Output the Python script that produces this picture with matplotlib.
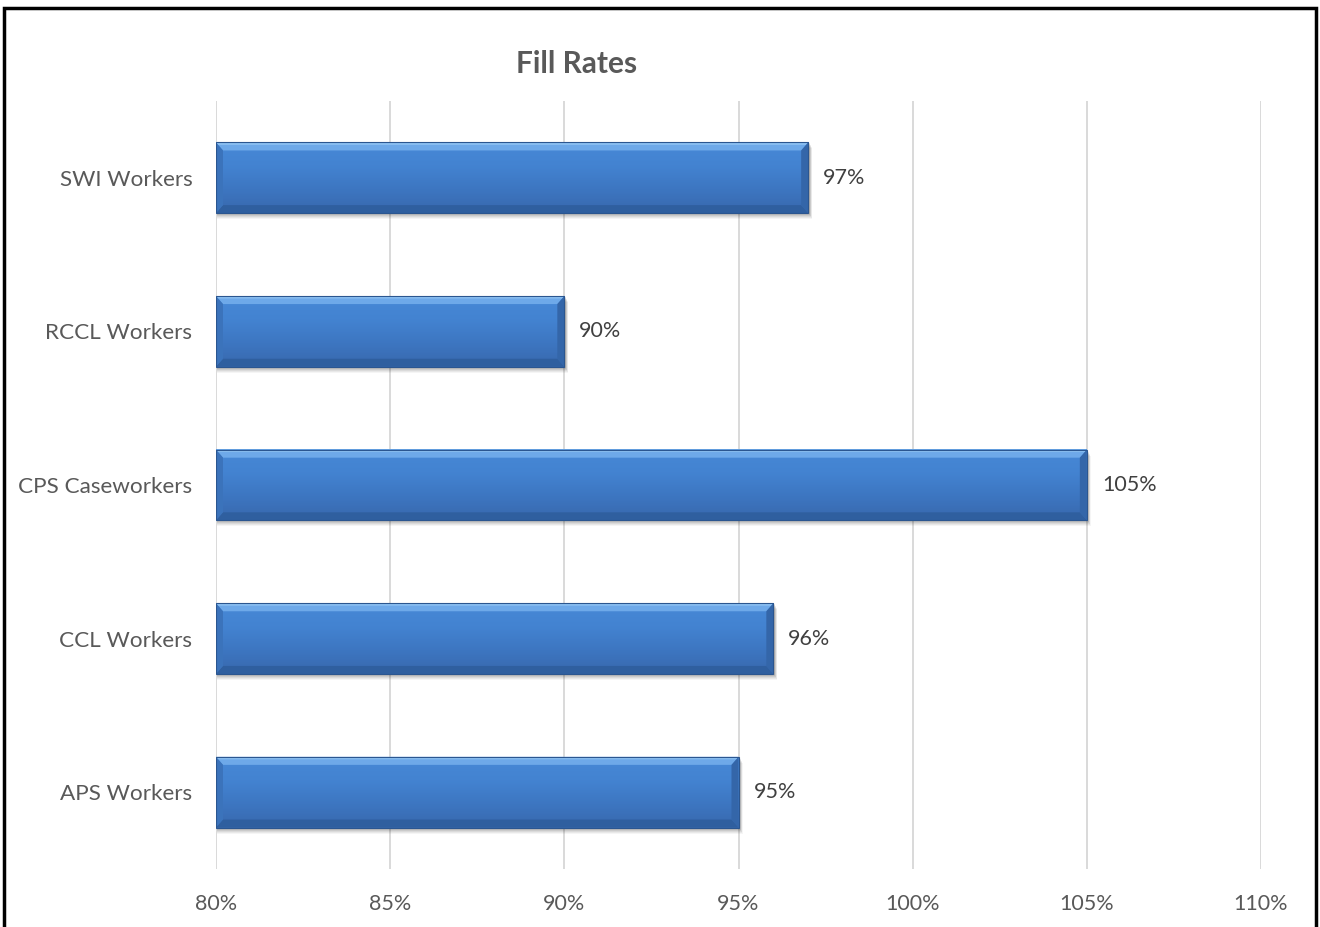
import matplotlib
matplotlib.use("Agg")
import matplotlib.pyplot as plt
import numpy as np
from matplotlib.patches import Polygon, Rectangle
from matplotlib.colors import LinearSegmentedColormap

# Fill rate by worker type (percent)
categories = ["APS Workers", "CCL Workers", "CPS Caseworkers", "RCCL Workers", "SWI Workers"]
fill_rates = [95, 96, 105, 90, 97]
x_ticks = [80, 85, 90, 95, 100, 105, 110]
tick_labels = ["80%", "85%", "90%", "95%", "100%", "105%", "110%"]
axis_min = 80

plt.rcParams['font.family'] = ['Lato', 'DejaVu Sans']

W, H = 1320, 927
fig = plt.figure(figsize=(W / 100, H / 100), dpi=100)
ax_left, ax_right, ax_top, ax_bottom = 216, 1261, 101, 869
ax = fig.add_axes([ax_left / W, 1 - ax_bottom / H,
                   (ax_right - ax_left) / W, (ax_bottom - ax_top) / H])
ax.set_xlim(x_ticks[0], x_ticks[-1])
ax.set_ylim(-0.5, len(categories) - 0.5)

# data units per pixel
px_x = (x_ticks[-1] - x_ticks[0]) / (ax_right - ax_left)
px_y = len(categories) / (ax_bottom - ax_top)

ypos = np.arange(len(categories))
bars = ax.barh(ypos, [v - axis_min for v in fill_rates], left=axis_min,
               height=0.46, color="#4080cf", zorder=3)

face_cmap = LinearSegmentedColormap.from_list(
    "face", ["#3868ad", "#3d76c1", "#4383d1", "#4788d6"])
grad = np.linspace(0, 1, 256).reshape(-1, 1)

for patch, val in zip(bars, fill_rates):
    x0, y0 = patch.get_x(), patch.get_y()
    x1, y1 = x0 + patch.get_width(), y0 + patch.get_height()
    patch.set_visible(False)

    # soft drop shadow
    for k, a in zip(range(6, 0, -1), [0.04, 0.05, 0.06, 0.07, 0.08, 0.09]):
        ax.add_patch(Rectangle((x0 + 1 * px_x, y0 - k * px_y),
                               (x1 - x0) + k * 0.5 * px_x, (y1 - y0),
                               facecolor="#000000", alpha=a, lw=0, zorder=2))

    # main face with vertical gradient
    ax.imshow(grad, extent=(x0, x1, y0, y1), origin="lower", cmap=face_cmap,
              aspect="auto", zorder=3, interpolation="bicubic")

    bx, by = 7 * px_x, 8 * px_y
    # top bevel (highlight)
    ax.add_patch(Polygon([(x0, y1), (x1, y1), (x1 - bx, y1 - by), (x0 + bx, y1 - by)],
                         closed=True, facecolor="#6ea9e9", lw=0, zorder=4))
    ax.add_patch(Polygon([(x0, y1), (x1, y1), (x1 - bx * 0.3, y1 - by * 0.3),
                          (x0 + bx * 0.3, y1 - by * 0.3)],
                         closed=True, facecolor="#8cc0f2", lw=0, zorder=4))
    # bottom bevel (dark)
    ax.add_patch(Polygon([(x0, y0), (x1, y0), (x1 - bx, y0 + by), (x0 + bx, y0 + by)],
                         closed=True, facecolor="#2f5f9f", lw=0, zorder=4))
    # right bevel
    ax.add_patch(Polygon([(x1, y0), (x1, y1), (x1 - bx, y1 - by), (x1 - bx, y0 + by)],
                         closed=True, facecolor="#3466a9", lw=0, zorder=4))
    # left bevel
    ax.add_patch(Polygon([(x0, y0), (x0, y1), (x0 + bx, y1 - by), (x0 + bx, y0 + by)],
                         closed=True, facecolor="#3b73bb", lw=0, zorder=4))
    # outline
    ax.add_patch(Rectangle((x0, y0), x1 - x0, y1 - y0, fill=False,
                           edgecolor="#2b5690", lw=0.8, zorder=5))

    ax.text(x1 + 15 * px_x, (y0 + y1) / 2, f"{val}%", ha="left", va="center",
            fontsize=15.5, color="#404040", zorder=6)

ax.set_xticks(x_ticks, tick_labels)
ax.set_yticks(ypos, categories)
ax.tick_params(axis="x", length=0, pad=18, labelsize=15.5, labelcolor="#595959")
ax.tick_params(axis="y", length=0, pad=17, labelsize=16.2, labelcolor="#595959")
ax.grid(axis="x", color="#d9d9d9", lw=1.4, zorder=0)
ax.grid(axis="y", visible=False)
ax.set_axisbelow(True)
for s in ax.spines.values():
    s.set_visible(False)

fig.text(577 / W, 1 - 64 / H, "Fill Rates", ha="center", va="center",
         fontsize=21.5, fontweight="bold", color="#595959")

# outer frame
fig.add_artist(Rectangle((4 / W, -0.05), (1316 - 4) / W, 1.05 - 8 / H,
                         transform=fig.transFigure, fill=False,
                         edgecolor="black", lw=2.5, clip_on=False))

fig.savefig("out.png", dpi=100, facecolor="white")
